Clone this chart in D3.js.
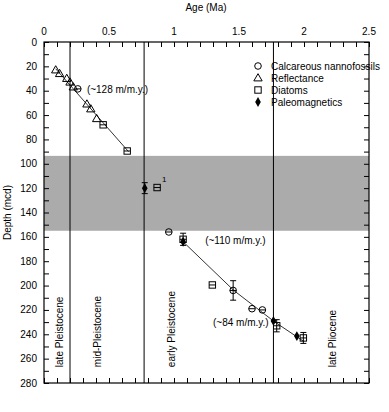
<!DOCTYPE html>
<html><head><meta charset="utf-8">
<script src="https://cdn.jsdelivr.net/npm/d3@7"></script>
<style>body{margin:0;background:#fff}svg{display:block;font-family:"Liberation Sans",Arial,sans-serif}</style>
</head><body><div id="c"></div>
<script>
const xTicks = [0, 0.5, 1, 1.5, 2, 2.5];
const yTicks = [0, 20, 40, 60, 80, 100, 120, 140, 160, 180, 200, 220, 240, 260, 280];
const nannofossils = [[0.26, 38.5, 0], [0.96, 156, 0], [1.455, 204, 8], [1.6, 219, 0], [1.68, 220, 0]];
const reflectance = [[0.09, 23], [0.12, 26], [0.175, 30], [0.2, 33], [0.225, 37], [0.33, 51], [0.36, 55], [0.405, 63]];
const diatoms = [[0.455, 68, 0], [0.64, 89.5, 0], [0.87, 119.5, 0], [1.07, 162, 5], [1.295, 199.5, 0], [1.79, 233, 5], [1.995, 243, 4.5]];
const paleomag = [[0.775, 120, 4.5], [1.07, 164, 0], [1.765, 229, 0], [1.945, 241.5, 0]];
const rateLine1 = [[0.09, 22], [0.65, 90]];
const rateLine2 = [[1.07, 164], [1.46, 204], [1.77, 229.5], [2.0, 246]];
const gapBand = [93.5, 155];
const boundaries = [0.2, 0.77, 1.765];
const epochs = [["late Pleistocene", 0.12], ["mid-Pleistocene", 0.41], ["early Pleistocene", 0.98], ["late Pliocene", 2.22]];
const rateLabels = [["(~128 m/m.y.)", 0.33, 39], ["(~110 m/m.y.)", 1.24, 163], ["(~84 m/m.y.)", 1.3, 230]];
const legendItems = [["circle", "Calcareous nannofossils"], ["triangle", "Reflectance"], ["square", "Diatoms"], ["diamond", "Paleomagnetics"]];

const W = 389, H = 412;
const svg = d3.select("#c").append("svg").attr("width", W).attr("height", H);
const x = d3.scaleLinear().domain([0, 2.5]).range([44, 369]);
const y = d3.scaleLinear().domain([0, 280]).range([42, 383]);
const fs = 10;

svg.append("rect").attr("x", x(0)).attr("width", x(2.5) - x(0))
  .attr("y", y(gapBand[0])).attr("height", y(gapBand[1]) - y(gapBand[0])).attr("fill", "#ababab");

boundaries.forEach(b => svg.append("line").attr("x1", x(b)).attr("x2", x(b)).attr("y1", y(0)).attr("y2", y(280))
  .attr("stroke", "#000").attr("stroke-width", 1));

svg.append("rect").attr("x", x(0)).attr("y", y(0)).attr("width", x(2.5) - x(0)).attr("height", y(280) - y(0))
  .attr("fill", "none").attr("stroke", "#000").attr("stroke-width", 1.2);

const minorX = d3.range(0, 2.51, 0.1);
const minorY = d3.range(0, 281, 10);
const tl = 5;
const gT = svg.append("g").attr("transform", `translate(0,${y(0)})`)
  .call(d3.axisTop(x).tickValues(minorX).tickSize(-tl).tickFormat(""));
const gB = svg.append("g").attr("transform", `translate(0,${y(280)})`)
  .call(d3.axisBottom(x).tickValues(minorX).tickSize(-tl).tickFormat(""));
const gL = svg.append("g").attr("transform", `translate(${x(0)},0)`)
  .call(d3.axisLeft(y).tickValues(minorY).tickSize(-tl).tickFormat(""));
const gR = svg.append("g").attr("transform", `translate(${x(2.5)},0)`)
  .call(d3.axisRight(y).tickValues(minorY).tickSize(-tl).tickFormat(""));
[gT, gB, gL, gR].forEach(g => { g.select(".domain").remove(); g.selectAll("line").attr("stroke", "#000"); });

svg.append("g").selectAll("text").data(xTicks).join("text")
  .attr("x", d => x(d)).attr("y", 35).attr("text-anchor", "middle").attr("font-size", fs).text(d => d);
svg.append("g").selectAll("text").data(yTicks).join("text")
  .attr("x", 37).attr("y", d => y(d) + 3.5).attr("text-anchor", "end").attr("font-size", fs).text(d => d);

svg.append("text").attr("x", 206).attr("y", 11).attr("text-anchor", "middle").attr("font-size", fs).text("Age (Ma)");
svg.append("text").attr("transform", `translate(11,${(y(0) + y(280)) / 2}) rotate(-90)`).attr("text-anchor", "middle")
  .attr("font-size", fs).text("Depth (mcd)");

const line = d3.line().x(d => x(d[0])).y(d => y(d[1]));
[rateLine1, rateLine2].forEach(l => svg.append("path").attr("d", line(l)).attr("fill", "none")
  .attr("stroke", "#000").attr("stroke-width", 0.8));

function drawSym(g, type, cx, cy, plain) {
  if (type === "circle") {
    g.append("circle").attr("cx", cx).attr("cy", cy).attr("r", 3.3).attr("fill", "none").attr("stroke", "#000");
    if (!plain) g.append("line").attr("x1", cx - 3.3).attr("x2", cx + 3.3).attr("y1", cy).attr("y2", cy).attr("stroke", "#000");
  } else if (type === "triangle") {
    g.append("path").attr("d", d3.symbol(d3.symbolTriangle, 30)()).attr("transform", `translate(${cx},${cy + 0.5})`)
      .attr("fill", "none").attr("stroke", "#000");
  } else if (type === "square") {
    g.append("rect").attr("x", cx - 3.2).attr("y", cy - 3.2).attr("width", 6.4).attr("height", 6.4)
      .attr("fill", "none").attr("stroke", "#000");
    if (!plain) g.append("line").attr("x1", cx - 3.2).attr("x2", cx + 3.2).attr("y1", cy).attr("y2", cy).attr("stroke", "#000");
  } else {
    g.append("path").attr("d", d3.symbol(d3.symbolDiamond, 28)()).attr("transform", `translate(${cx},${cy})`)
      .attr("fill", "#000");
  }
}
function errBar(g, a, d, e) {
  if (!e) return;
  const cx = x(a);
  g.append("line").attr("x1", cx).attr("x2", cx).attr("y1", y(d - e)).attr("y2", y(d + e)).attr("stroke", "#000");
  [d - e, d + e].forEach(v => g.append("line").attr("x1", cx - 3).attr("x2", cx + 3).attr("y1", y(v)).attr("y2", y(v)).attr("stroke", "#000"));
}
const gp = svg.append("g");
reflectance.forEach(p => drawSym(gp, "triangle", x(p[0]), y(p[1])));
nannofossils.forEach(p => { errBar(gp, p[0], p[1], p[2]); drawSym(gp, "circle", x(p[0]), y(p[1])); });
diatoms.forEach(p => { errBar(gp, p[0], p[1], p[2]); drawSym(gp, "square", x(p[0]), y(p[1])); });
paleomag.forEach(p => { errBar(gp, p[0], p[1], p[2]); drawSym(gp, "diamond", x(p[0]), y(p[1])); });

svg.append("text").attr("x", x(diatoms[2][0]) + 5).attr("y", y(diatoms[2][1]) - 6).attr("font-size", 8).text("1");

rateLabels.forEach(r => svg.append("text").attr("x", x(r[1])).attr("y", y(r[2]) + 3.5).attr("font-size", fs).text(r[0]));

epochs.forEach(e => svg.append("text").attr("transform", `translate(${x(e[1]) + 3.5},${y(267)}) rotate(-90)`)
  .attr("font-size", fs).text(e[0]));

const lg = svg.append("g");
legendItems.forEach((it, i) => {
  const cy = 66 + i * 12;
  drawSym(lg, it[0], 258, cy, true);
  lg.append("text").attr("x", 271).attr("y", cy + 3.5).attr("font-size", fs).text(it[1]);
});
</script></body></html>
